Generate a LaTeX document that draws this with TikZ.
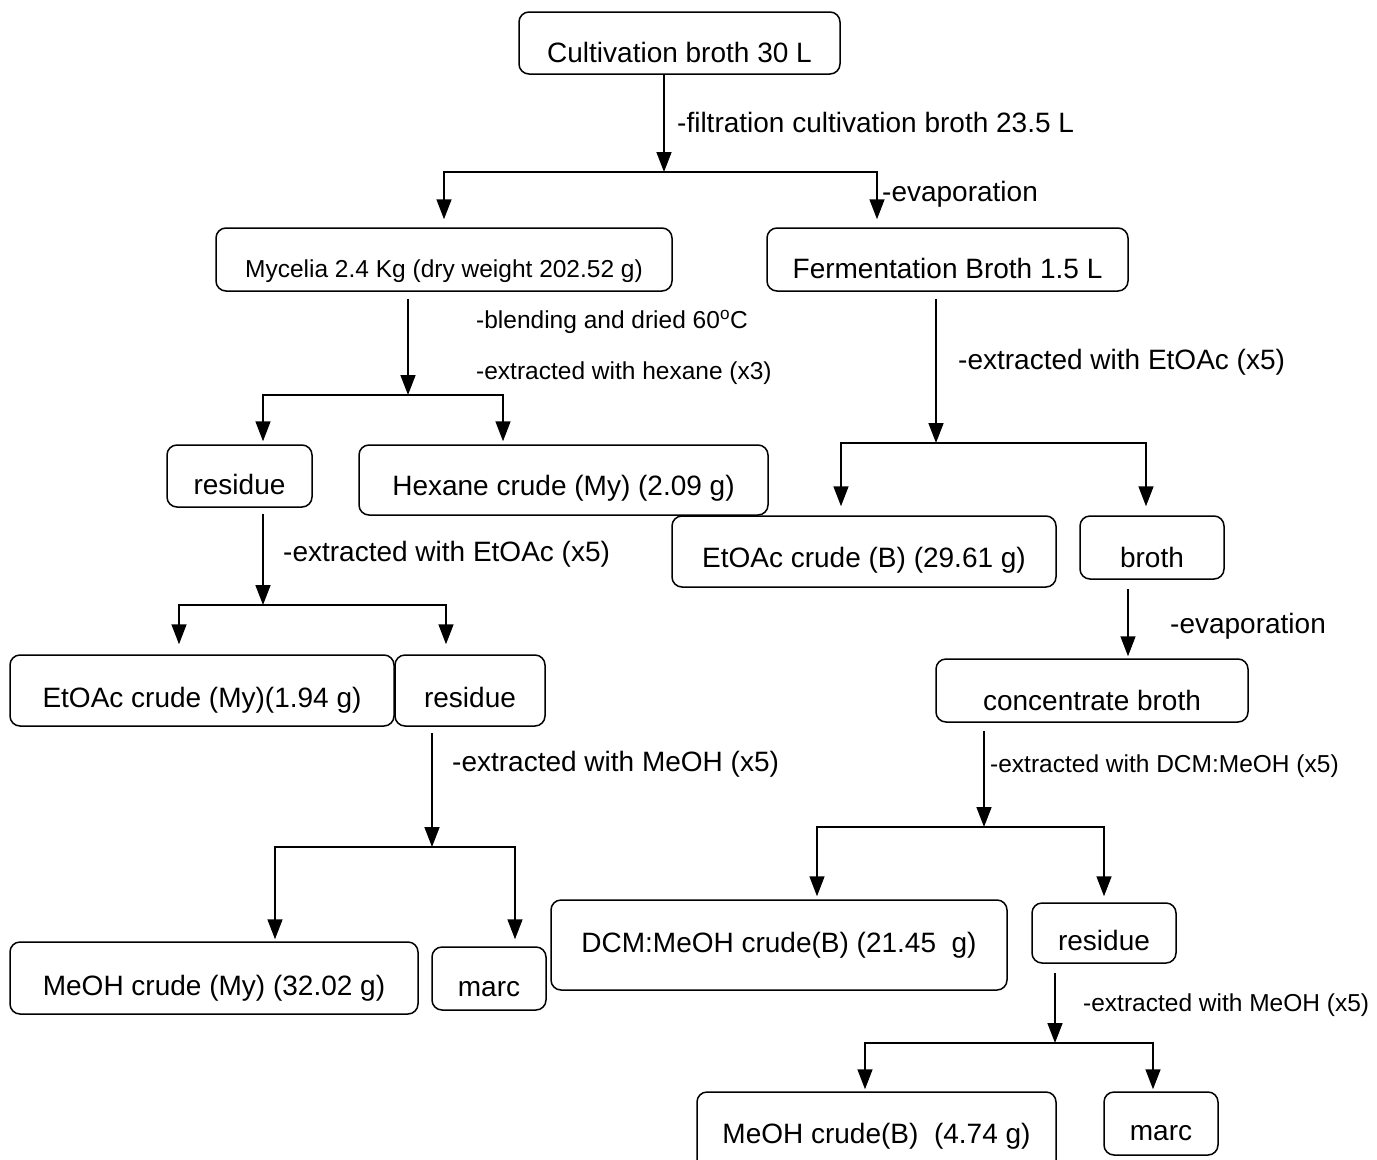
\documentclass[tikz,border=0pt]{standalone}
\usepackage{fontspec}
\setmainfont{Liberation Sans}
\usetikzlibrary{arrows.meta, positioning, calc}

\tikzset{
    stage/.style={draw, rounded corners=10pt, line width=1.5pt, inner sep=2pt,
        text height=38pt, text depth=1pt, font=\fontsize{28}{32}\selectfont},
    stagesm/.style={stage, text height=36pt, font=\fontsize{24.5}{28}\selectfont},
    flow/.style={line width=1.6pt, -{Triangle[width=15pt,length=20pt]}},
    note/.style={anchor=west, inner sep=0pt, font=\fontsize{28}{32}\selectfont},
    notesm/.style={note, font=\fontsize{24.5}{28}\selectfont}
}

\begin{document}
\begin{tikzpicture}[x=1pt, y=-1pt]
    \useasboundingbox (0,0) rectangle (1377,1160);

    % stages
    \node[stage, minimum width=321pt, minimum height=62pt, text height=39pt] (cult) at (679.5,43) {Cultivation broth 30 L};
    \node[stagesm, minimum width=456pt, minimum height=63pt] (myc) at (444,259.5) {Mycelia 2.4 Kg (dry weight 202.52 g)};
    \node[stage, minimum width=361pt, minimum height=63pt] (ferm) at (947.5,259.5) {Fermentation Broth 1.5 L};
    \node[stage, minimum width=145pt, minimum height=62pt, text height=37pt] (res1) at (239.5,476) {residue};
    \node[stage, minimum width=409pt, minimum height=70pt, text height=31pt] (hex) at (563.5,480) {Hexane crude (My) (2.09 g)};
    \node[stage, minimum width=384pt, minimum height=71pt, text height=32pt] (etb) at (864,551.5) {EtOAc crude (B) (29.61 g)};
    \node[stage, minimum width=144pt, minimum height=63pt, text height=40pt] (broth) at (1152,547.5) {broth};
    \node[stage, minimum width=384pt, minimum height=71pt, text height=34pt] (etm) at (202,690.5) {EtOAc crude (My)(1.94 g)};
    \node[stage, minimum width=150pt, minimum height=71pt, text height=34pt] (res2) at (470,690.5) {residue};
    \node[stage, minimum width=312pt, minimum height=63pt, text height=40pt] (conc) at (1092,690.5) {concentrate broth};
    \node[stage, minimum width=408pt, minimum height=72pt, text height=35pt] (meom) at (214,978) {MeOH crude (My) (32.02 g)};
    \node[stage, minimum width=114pt, minimum height=63pt, text height=37pt] (marc1) at (489,978.5) {marc};
    \node[stage, minimum width=456pt, minimum height=90pt, text height=16pt] (dcm) at (779,945) {DCM:MeOH crude(B) (21.45\ \ g)};
    \node[stage, minimum width=144pt, minimum height=60pt, text height=35pt] (res3) at (1104,933) {residue};
    \node[stage, minimum width=359pt, minimum height=80pt, text height=23pt] (meob) at (876.5,1132) {MeOH crude(B)\ \ (4.74 g)};
    \node[stage, minimum width=114pt, minimum height=63pt, text height=35pt] (marc2) at (1161,1123.5) {marc};

    % steps
    \node[note] (l1) at (677,122) {-filtration cultivation broth 23.5 L};
    \node[note] (l2) at (882,194) {-evaporation};
    \node[notesm] (l3) at (476,322) {-blending and dried 60\textsuperscript{o}C};
    \node[notesm] (l4) at (476,373) {-extracted with hexane (x3)};
    \node[note] (l5) at (958,362) {-extracted with EtOAc (x5)};
    \node[note] (l6) at (283,554) {-extracted with EtOAc (x5)};
    \node[note] (l7) at (1170,626) {-evaporation};
    \node[note] (l8) at (452,764) {-extracted with MeOH (x5)};
    \node[notesm] (l9) at (990,766) {-extracted with DCM:MeOH (x5)};
    \node[notesm] (l10) at (1083,1005) {-extracted with MeOH (x5)};

    % junctions
    \coordinate (j1) at (664,172);
    \coordinate (j2) at (408,395);
    \coordinate (j3) at (936,443);
    \coordinate (j4) at (263,605);
    \coordinate (j5) at (432,847);
    \coordinate (j6) at (1128,600);
    \coordinate (j7) at (984,827);
    \coordinate (j8) at (1055,1043);

    % connectors
    \draw[flow] (cult.south -| j1) -- (j1);
    \draw[flow, shorten >=8pt] (j1) -| (myc.north);
    \draw[flow, shorten >=8pt] (j1) -| ([xshift=-70.5pt]ferm.north);

    \draw[flow, shorten <=7pt] (myc.south -| j2) -- (j2);
    \draw[flow, shorten >=3pt] (j2) -| ([xshift=23.5pt]res1.north);
    \draw[flow, shorten >=3pt] (j2) -| ([xshift=-60.5pt]hex.north);

    \draw[flow, shorten <=7pt] (ferm.south -| j3) -- (j3);
    \draw[flow, shorten >=9pt] (j3) -| ([xshift=-23pt]etb.north);
    \draw[flow, shorten >=9pt] (j3) -| ([xshift=-6pt]broth.north);

    \draw[flow, shorten <=6pt] (res1.south -| j4) -- (j4);
    \draw[flow, shorten >=10pt] (j4) -| ([xshift=-23pt]etm.north);
    \draw[flow, shorten >=10pt] (j4) -| ([xshift=-24pt]res2.north);

    \draw[flow, shorten <=6pt] (res2.south -| j5) -- (j5);
    \draw[flow, shorten >=2pt] (j5) -| ([xshift=61pt]meom.north);
    \draw[flow, shorten >=7pt] (j5) -| ([xshift=26pt]marc1.north);

    \draw[flow, shorten <=9pt, shorten >=2pt] (broth.south -| j6) -- (conc.north -| j6);

    \draw[flow, shorten <=8pt] (conc.south -| j7) -- (j7);
    \draw[flow, shorten >=3pt] (j7) -| ([xshift=38pt]dcm.north);
    \draw[flow, shorten >=6pt] (j7) -| (res3.north);

    \draw[flow, shorten <=9pt] (res3.south -| j8) -- (j8);
    \draw[flow, shorten >=2pt] (j8) -| ([xshift=-11.5pt]meob.north);
    \draw[flow, shorten >=2pt] (j8) -| ([xshift=-8pt]marc2.north);
\end{tikzpicture}
\end{document}
